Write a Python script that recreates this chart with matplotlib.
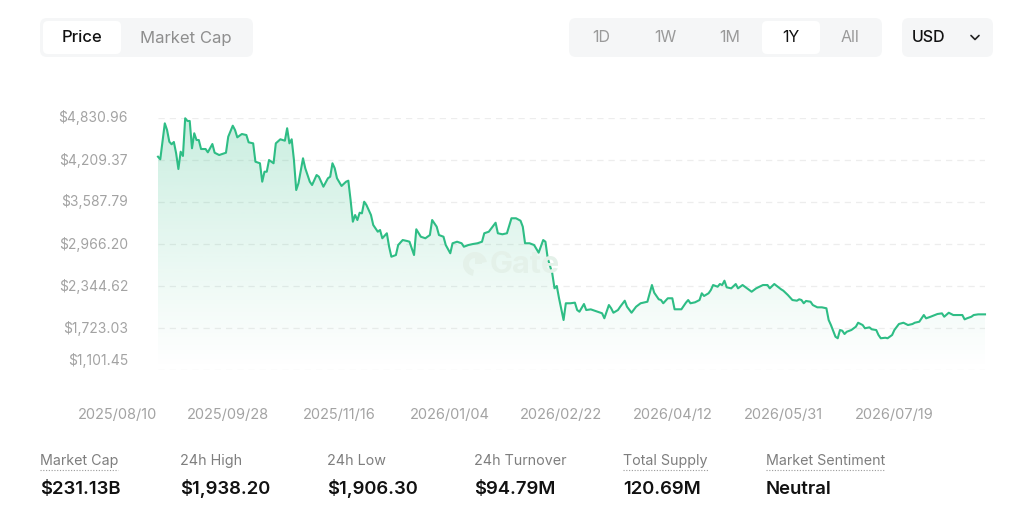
import numpy as np
import pandas as pd
import matplotlib
matplotlib.use("Agg")
import matplotlib.pyplot as plt
import matplotlib.dates as mdates
from matplotlib.patches import FancyBboxPatch, Wedge, Rectangle
from matplotlib.colors import to_rgb

plt.rcParams['font.family'] = ['Inter', 'DejaVu Sans']

# ---- data ----
start_date = "2025-08-28"
day_offset = [0, 1, 3, 4, 5, 6, 7, 8, 9, 10, 11, 12, 13, 14, 15, 16, 17, 18, 19, 21,
              22, 24, 25, 27, 30, 31, 33, 34, 35, 37, 39, 40, 42, 43, 45, 46, 47, 48, 49, 51,
              52, 54, 56, 57, 58, 59, 60, 61, 62, 64, 65, 67, 68, 70, 71, 73, 75, 76, 77, 78,
              79, 81, 83, 84, 85, 86, 87, 88, 89, 90, 91, 92, 94, 95, 97, 98, 99, 101, 102, 103,
              105, 106, 108, 110, 111, 113, 114, 116, 118, 120, 121, 123, 124, 126, 127, 129, 130, 132, 134, 135,
              137, 139, 141, 143, 144, 146, 149, 150, 152, 154, 156, 158, 160, 161, 162, 164, 166, 168, 170, 171,
              172, 174, 175, 176, 177, 179, 180, 182, 184, 185, 186, 188, 189, 191, 194, 196, 197, 199, 200, 201,
              203, 204, 206, 207, 209, 211, 213, 216, 217, 218, 219, 221, 222, 223, 225, 227, 228, 231, 233, 234,
              235, 237, 239, 240, 241, 243, 244, 245, 247, 248, 249, 250, 251, 253, 255, 256, 258, 260, 262, 264,
              267, 269, 270, 272, 275, 276, 278, 280, 282, 283, 284, 285, 286, 288, 289, 291, 293, 295, 296, 297,
              299, 300, 301, 302, 303, 304, 306, 308, 309, 311, 312, 314, 315, 317, 318, 319, 321, 322, 324, 325,
              327, 329, 331, 333, 334, 336, 338, 339, 341, 344, 346, 347, 349, 351, 353, 355, 356, 357, 359, 360,
              362, 365]
price = [4258, 4220, 4752, 4653, 4480, 4442, 4476, 4309, 4076, 4332, 4269, 4827, 4787, 4787, 4383, 4605, 4505, 4505, 4372, 4372,
         4323, 4446, 4317, 4283, 4317, 4554, 4717, 4653, 4545, 4594, 4579, 4471, 4456, 4184, 4161, 3888, 4036, 4036, 4209, 4161,
         4456, 4516, 4495, 4679, 4456, 4516, 4209, 3765, 3865, 4235, 4087, 3888, 3839, 3987, 3962, 3814, 3939, 3962, 4161, 4087,
         3939, 3825, 3888, 3903, 3617, 3296, 3395, 3321, 3429, 3420, 3592, 3543, 3395, 3247, 3148, 3173, 3051, 3125, 2926, 2778,
         2803, 2951, 3025, 3010, 3000, 2803, 3184, 3074, 3051, 3099, 3321, 3222, 3099, 3074, 2951, 2829, 2977, 3000, 2977, 2926,
         2951, 2966, 2977, 3000, 3125, 3148, 3281, 3125, 3110, 3125, 3347, 3347, 3311, 3222, 2977, 2977, 2951, 2838, 3025, 3000,
         2755, 2533, 2311, 2345, 2163, 1841, 2089, 2089, 2098, 1989, 1964, 2078, 1989, 1999, 1964, 1941, 1867, 2063, 2015, 1949,
         1989, 2038, 2127, 2038, 1949, 2038, 2089, 2112, 2237, 2359, 2246, 2148, 2137, 2089, 2163, 2163, 2000, 2000, 2098, 2137,
         2089, 2103, 2137, 2237, 2197, 2237, 2285, 2359, 2334, 2374, 2359, 2423, 2325, 2310, 2374, 2310, 2359, 2310, 2260, 2310,
         2359, 2359, 2310, 2374, 2296, 2275, 2211, 2137, 2127, 2148, 2137, 2089, 2123, 2112, 2063, 2029, 2029, 2015, 1841, 1767,
         1594, 1571, 1693, 1683, 1634, 1668, 1693, 1742, 1801, 1767, 1719, 1733, 1704, 1693, 1619, 1571, 1579, 1571, 1619, 1693,
         1782, 1801, 1767, 1782, 1801, 1816, 1915, 1866, 1890, 1930, 1940, 1890, 1949, 1915, 1915, 1915, 1851, 1866, 1890, 1915,
         1925, 1925]

y_ticks = [1101.45, 1723.03, 2344.62, 2966.20, 3587.79, 4209.37, 4830.96]
x_tick_dates = ["2025/08/10", "2025/09/28", "2025/11/16", "2026/01/04",
                "2026/02/22", "2026/04/12", "2026/05/31", "2026/07/19"]

stat_names = ["Market Cap", "24h High", "24h Low", "24h Turnover", "Total Supply", "Market Sentiment"]
stat_values = ["$231.13B", "$1,938.20", "$1,906.30", "$94.79M", "120.69M", "Neutral"]
stat_dotted = [True, False, False, False, True, True]

chart_tabs = ["Price", "Market Cap"]
range_tabs = ["1D", "1W", "1M", "1Y", "All"]

dates = pd.to_datetime(start_date) + pd.to_timedelta(day_offset, unit="D")
xnum = mdates.date2num(dates)

green = "#2ebd85"
W, H = 1024, 522
fig = plt.figure(figsize=(W / 100, H / 100), dpi=100)
fig.patch.set_facecolor("white")

# chart axes
ax = fig.add_axes([158 / W, 1 - 370 / H, 827 / W, 252 / H])
ax.set_xlim(xnum[0], xnum[-1])
ax.set_ylim(y_ticks[0], y_ticks[-1])
for s in ax.spines.values():
    s.set_visible(False)
ax.set_xticks([])
ax.set_yticks([])
ax.patch.set_alpha(0)

for v in y_ticks:
    ax.axhline(v, color="#ededed", lw=0.9, dashes=(5, 4), zorder=0)

# gradient fill under the line
grad = np.linspace(1, 0, 256)
rgba = np.zeros((256, 1, 4))
rgba[..., :3] = to_rgb(green)
rgba[..., 3] = (0.26 * grad ** 1.1)[:, None]
im = ax.imshow(rgba, extent=[xnum[0], xnum[-1], y_ticks[0], y_ticks[-1]],
               aspect="auto", origin="upper", zorder=1)
poly = ax.fill_between(xnum, price, y_ticks[0], color="none", lw=0)
im.set_clip_path(poly.get_paths()[0], transform=ax.transData)

ax.plot(xnum, price, color=green, lw=1.5, zorder=3, clip_on=False,
        solid_joinstyle="round")

# y labels
for i, v in enumerate(y_ticks):
    dy = 9 if i == 0 else 0
    ax.annotate(f"${v:,.2f}", xy=(0, v), xycoords=("axes fraction", "data"),
                xytext=(-30, dy), textcoords="offset pixels",
                ha="right", va="center", fontsize=10, color="#a3a3a3")

# x labels
for d in x_tick_dates:
    xv = mdates.date2num(pd.to_datetime(d))
    ax.annotate(d, xy=(xv, 0), xycoords=("data", "axes fraction"),
                xytext=(0, -45), textcoords="offset pixels",
                ha="center", va="center", fontsize=10.5, color="#a3a3a3",
                annotation_clip=False)

# ---- UI overlay in pixel coordinates ----
ui = fig.add_axes([0, 0, 1, 1], zorder=5)
ui.set_xlim(0, W)
ui.set_ylim(H, 0)
ui.axis("off")
ui.patch.set_alpha(0)

def box(x0, y0, x1, y1, fc, r=6):
    ui.add_patch(FancyBboxPatch((x0, y0), x1 - x0, y1 - y0,
                                boxstyle=f"round,pad=0,rounding_size={r}",
                                fc=fc, ec="none"))

# watermark
wm = "#e4f1e9"
ui.add_patch(Wedge((475, 264), 12, 100, 350, width=6, fc=wm, ec="none"))
ui.add_patch(Rectangle((475, 258), 7, 6, fc=wm, ec="none"))
ui.text(490, 265, "Gate", fontsize=22, fontweight="bold", color=wm,
        ha="left", va="center")

# chart type tabs
box(40, 18, 253, 57, "#f5f6f7", 7)
box(43, 21, 121, 54, "white", 5)
ui.text(82, 38, chart_tabs[0], fontsize=12, color="#111111", ha="center",
        va="center", fontweight="medium")
ui.text(186, 38, chart_tabs[1], fontsize=12, color="#8e8e8e", ha="center", va="center")

# range tabs
box(569, 18, 882, 57, "#f5f6f7", 7)
box(762, 21, 820, 54, "white", 5)
tab_x = [601, 665, 730, 791, 850]
for lbl, tx in zip(range_tabs, tab_x):
    active = lbl == "1Y"
    ui.text(tx, 38, lbl, fontsize=11.5, color="#111111" if active else "#9a9a9a",
            ha="center", va="center")

# currency select
box(902, 18, 993, 57, "#f5f6f7", 7)
ui.text(929, 38, "USD", fontsize=11.5, color="#111111", ha="center", va="center",
        fontweight="medium")
ui.plot([971, 975, 979], [35.5, 39.5, 35.5], color="#222222", lw=1.2,
        solid_capstyle="round")

# stats row
stat_x = [40, 180, 327, 474, 623, 766]
for name, val, dotted, sx in zip(stat_names, stat_values, stat_dotted, stat_x):
    t = ui.text(sx, 461, name, fontsize=10.3, color="#7e7e7e", ha="left", va="center")
    ui.text(sx, 489, val, fontsize=13.3, color="#111111", ha="left", va="center",
            fontweight="semibold")
    if dotted:
        fig.canvas.draw()
        bb = t.get_window_extent()
        ui.plot([bb.x0, bb.x1], [470, 470], color="#9a9a9a", lw=0.8,
                dashes=(1, 1.5))

fig.savefig("out.png", dpi=100, facecolor="white")
